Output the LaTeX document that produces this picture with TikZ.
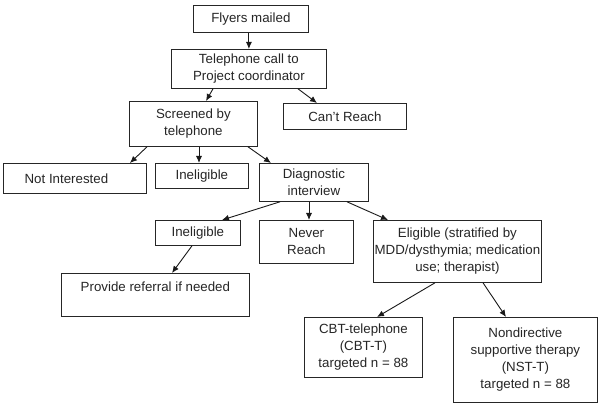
\documentclass[tikz,border=0pt]{standalone}
\usepackage{fontspec}
\setmainfont{Liberation Sans}
\usetikzlibrary{arrows.meta}
\begin{document}
\begin{tikzpicture}[x=1pt,y=-1pt,
  box/.style={draw=black!85, line width=0.8pt, inner sep=0pt, align=center,
    anchor=north west, font=\fontsize{13.3}{17}\selectfont, text=black!85},
  arr/.style={draw=black!90, line width=0.9pt, -{Latex[length=7pt,width=6pt]}}]
\fill[white] (0,0) rectangle (600,406);
\useasboundingbox (0,0) rectangle (600,406);
\node[box, minimum width=115pt, minimum height=27pt] (fly) at (193,5) {Flyers mailed};
\node[box, minimum width=155pt, minimum height=39pt] (tel) at (171,49) {Telephone call to\\Project coordinator};
\node[box, minimum width=128pt, minimum height=45pt] (scr) at (129,101) {Screened by\\telephone};
\node[box, minimum width=123pt, minimum height=26pt] (cant) at (283,103) {Can't Reach};
\node[box, minimum width=143pt, minimum height=30pt] (noti) at (3,163) {Not Interested\hspace{17pt}};
\node[box, minimum width=93pt, minimum height=25pt] (inel1) at (155,163) {Ineligible};
\node[box, minimum width=109pt, minimum height=38pt] (diag) at (259,163) {Diagnostic\\interview};
\node[box, minimum width=85pt, minimum height=25pt] (inel2) at (155,220) {Ineligible};
\node[box, minimum width=94pt, minimum height=43pt] (never) at (259,220) {Never\\Reach};
\node[box, minimum width=168pt, minimum height=62pt] (elig) at (373,220) {Eligible (stratified by\\MDD/dysthymia; medication\\use; therapist)};
\node[box, minimum width=188pt, minimum height=43pt] (refer) at (61,273) {Provide referral if needed\\~};
\node[box, minimum width=118pt, minimum height=60pt] (cbt) at (304,317) {CBT-telephone\\(CBT-T)\\targeted n = 88};
\node[box, minimum width=144pt, minimum height=85pt] (nst) at (453,317) {Nondirective\\supportive therapy\\(NST-T)\\targeted n = 88};
\draw[arr] ([xshift=-2pt]fly.south) -- (tel.north);
\draw[arr] ([xshift=42pt]tel.south west) -- ([xshift=77pt]scr.north west);
\draw[arr] ([xshift=127pt]tel.south west) -- ([xshift=34pt]cant.north west);
\draw[arr] ([xshift=18pt]scr.south west) -- ([xshift=127pt]noti.north west);
\draw[arr] ([xshift=70pt]scr.south west) -- ([xshift=44pt]inel1.north west);
\draw[arr] ([xshift=119pt]scr.south west) -- ([xshift=12pt]diag.north west);
\draw[arr] ([xshift=21pt]diag.south west) -- ([xshift=67pt]inel2.north west);
\draw[arr] ([xshift=50pt]diag.south west) -- ([xshift=50pt]never.north west);
\draw[arr] ([xshift=88pt]diag.south west) -- ([xshift=15pt]elig.north west);
\draw[arr] ([xshift=37pt]inel2.south west) -- ([xshift=111pt]refer.north west);
\draw[arr] ([xshift=62pt]elig.south west) -- ([xshift=73pt]cbt.north west);
\draw[arr] ([xshift=110pt]elig.south west) -- ([xshift=53pt]nst.north west);
\end{tikzpicture}
\end{document}
